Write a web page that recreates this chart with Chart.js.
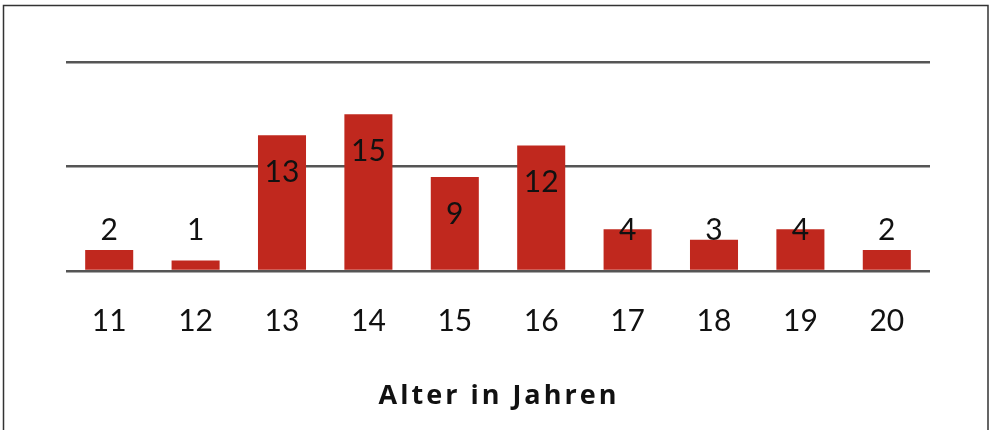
<!DOCTYPE html>
<html>
<head>
<meta charset="utf-8">
<script src="https://cdn.jsdelivr.net/npm/chart.js@4"></script>
<style>
  html, body { margin: 0; padding: 0; background: #fff; }
  #wrap { width: 990px; height: 430px; position: relative; }
</style>
</head>
<body>
<div id="wrap"><canvas id="c" width="990" height="430"></canvas></div>
<script>
const categories = ['11', '12', '13', '14', '15', '16', '17', '18', '19', '20'];
const counts = [2, 1, 13, 15, 9, 12, 4, 3, 4, 2];
const yTicks = [0, 10, 20];
const axisTitle = 'Alter in Jahren';

const frame = {
  id: 'frame',
  afterDraw(chart) {
    const ctx = chart.ctx;
    ctx.save();
    ctx.strokeStyle = '#333';
    ctx.lineWidth = 1.5;
    ctx.beginPath();
    ctx.moveTo(3.5, 440);
    ctx.lineTo(3.5, 5.5);
    ctx.lineTo(988, 5.5);
    ctx.lineTo(988, 440);
    ctx.stroke();
    ctx.restore();
  }
};

const valueLabels = {
  id: 'valueLabels',
  afterDatasetsDraw(chart) {
    const ctx = chart.ctx;
    const meta = chart.getDatasetMeta(0);
    const yScale = chart.scales.y;
    const floorY = yScale.getPixelForValue(3.9);
    ctx.save();
    ctx.font = '30px Lato';
    ctx.fillStyle = '#111';
    ctx.textAlign = 'center';
    ctx.textBaseline = 'middle';
    meta.data.forEach((bar, i) => {
      const y = Math.min(bar.y + 37, floorY);
      ctx.fillText(String(counts[i]), bar.x, y);
    });
    ctx.restore();
  }
};

const titleDraw = {
  id: 'titleDraw',
  afterDraw(chart) {
    const ctx = chart.ctx;
    const area = chart.chartArea;
    ctx.save();
    ctx.font = 'bold 27px "Open Sans"';
    ctx.fillStyle = '#111';
    ctx.textAlign = 'center';
    ctx.textBaseline = 'middle';
    ctx.letterSpacing = '3px';
    ctx.fillText(axisTitle, (area.left + area.right) / 2 + 1, 396);
    ctx.restore();
  }
};

new Chart(document.getElementById('c'), {
  type: 'bar',
  data: {
    labels: categories,
    datasets: [{
      data: counts,
      backgroundColor: '#c0281e',
      borderWidth: 0,
      categoryPercentage: 1,
      barPercentage: 0.556
    }]
  },
  options: {
    responsive: false,
    animation: false,
    devicePixelRatio: 1,
    layout: { padding: { left: 66, right: 60, top: 62, bottom: 59 } },
    plugins: { legend: { display: false }, tooltip: { enabled: false }, title: { display: false } },
    scales: {
      x: {
        grid: { display: false, drawTicks: false },
        border: { display: false },
        ticks: { color: '#111', font: { family: 'Lato', size: 30 }, padding: 32 }
      },
      y: {
        min: 0, max: 20,
        afterBuildTicks(scale) { scale.ticks = yTicks.map(v => ({ value: v })); },
        grid: { color: '#555', lineWidth: 2.5, drawTicks: false },
        border: { display: false },
        ticks: { display: false }
      }
    }
  },
  plugins: [frame, valueLabels, titleDraw]
});
</script>
</body>
</html>
